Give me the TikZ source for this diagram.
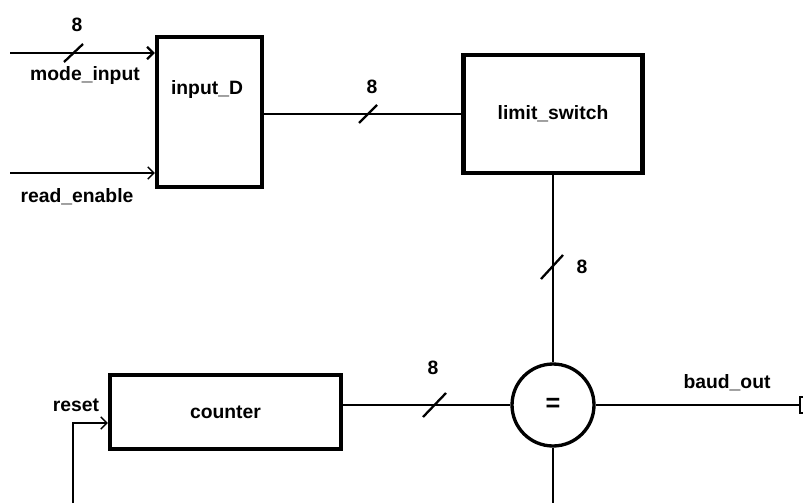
\documentclass[tikz,border=0pt]{standalone}
\usepackage{fontspec}
\setmainfont{Liberation Sans}
\usetikzlibrary{arrows.meta}
\begin{document}
\begin{tikzpicture}[x=0.02cm,y=-0.02cm,
  blk/.style={draw,line width=2.4pt,rectangle,inner sep=0pt},
  bus/.style={line width=1.3pt},
  wire/.style={line width=0.8pt},
  lbl/.style={font=\bfseries\fontsize{11}{13}\selectfont,inner sep=0pt},
  arr/.style={-{Straight Barb[length=3.5pt,width=7pt]}}]
\useasboundingbox (0,0) rectangle (803,503);
% blocks
\node[blk,minimum width=2.1cm,minimum height=3.0cm] (inD) at (209.5,112) {};
\node[lbl] (inDt) at (207,90) {input\_D};
\node[blk,minimum width=3.58cm,minimum height=2.36cm,lbl] (lim) at (553,114) {limit\_switch};
\node[blk,minimum width=4.62cm,minimum height=1.48cm,lbl] (cnt) at (225.5,412) {counter};
\node[draw,circle,line width=1.9pt,minimum size=1.64cm,inner sep=0pt,font=\bfseries\Large] (eq) at (553,405) {=};
% inputs
\coordinate (mi) at (10,53);
\coordinate (re) at (10,173);
\draw[bus,arr] (mi) -- (inD.west |- mi);
\draw[bus] (64,62) -- (83,44);
\node[lbl] (m8) at (77,25) {8};
\node[lbl] (mil) at (85,76) {mode\_input};
\draw[wire,arr] (re) -- (inD.west |- re);
\node[lbl] (rel) at (77,197) {read\_enable};
% input_D -> limit_switch
\draw[bus] (inD.east |- 0,114) -- (lim.west |- 0,114);
\draw[bus] (359,123) -- (377,105);
\node[lbl] (l8) at (372,87) {8};
% limit_switch -> eq
\draw[bus] (lim.south) -- (eq.north);
\draw[bus] (541,279) -- (563,255);
\node[lbl] (v8) at (582,267) {8};
% counter -> eq
\draw[bus] (cnt.east |- eq) -- (eq.west);
\draw[bus] (423,417) -- (446,393);
\node[lbl] (c8) at (433,368) {8};
% output
\coordinate (bo) at (800,405);
\draw[wire] (eq.east) -- (bo);
\draw[wire] (804,397) -- (800,397) -- (800,413) -- (804,413);
\node[lbl] (bol) at (727,383) {baud\_out};
% eq bottom
\coordinate (eqb) at (553,503);
\draw[wire] (eq.south) -- (eqb);
% reset
\coordinate (rs) at (73,503);
\draw[wire,arr] (rs) |- (cnt.west |- 0,423);
\node[lbl] (rsl) at (76,405) {reset};
\end{tikzpicture}
\end{document}
